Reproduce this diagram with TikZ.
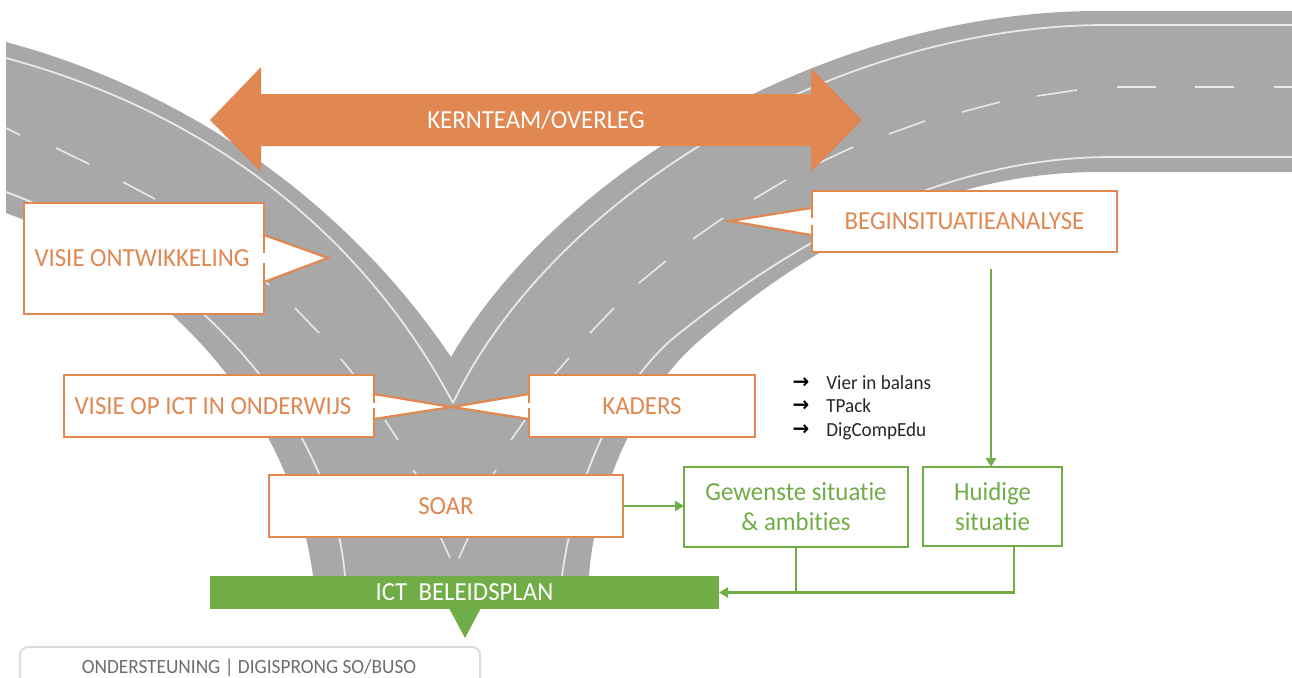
\documentclass[tikz,border=0pt]{standalone}
\usepackage{fontspec}
\setmainfont{Carlito}[FakeStretch=0.955,Ligatures=NoCommon]
\newfontfamily\symfont{DejaVu Sans}
\usetikzlibrary{arrows.meta}
\definecolor{road}{HTML}{A9A8A8}
\definecolor{oran}{HTML}{E08752}
\definecolor{gren}{HTML}{70AD47}
\definecolor{lane}{HTML}{E9E9E9}
\definecolor{frameg}{HTML}{DCDCDC}
\definecolor{txtg}{HTML}{6E6E6E}
\tikzset{
  orangebox/.style={draw=oran,fill=white,line width=1.35pt,inner sep=0pt,outer sep=0pt,text=oran,font=\fontsize{13}{15}\selectfont,align=center},
  greenbox/.style={draw=gren,fill=white,line width=1.35pt,inner sep=0pt,outer sep=0pt,text=gren,font=\fontsize{13}{15}\selectfont,align=center},
  wedgeshape/.style={draw=oran,fill=white,line width=1.1pt,line join=miter},
  lanemark/.style={draw=lane,line width=0.8pt},
  edgeline/.style={draw=lane,line width=0.9pt},
  greenline/.style={draw=gren,line width=1.2pt},
  greentip/.style={greenline,-{Triangle[length=4.5pt,width=5pt]}},
  listtext/.style={anchor=base west,inner sep=0pt,text=black!85,font=\fontsize{10}{11}\selectfont},
  listarrow/.style={inner sep=0pt,text=black,font=\symfont\bfseries\fontsize{10}{11}\selectfont}
}
\begin{document}
\begin{tikzpicture}[x=0.5pt,y=-0.5pt]
\useasboundingbox (0,0) rectangle (1292,677);
% road surface
\fill[road] (6,42) .. controls (185,90) and (345,200) .. (451,357)
  .. controls (560,170) and (830,11) .. (1099,11) -- (1292,11) -- (1292,172) -- (1099,172)
  .. controls (985,172) and (850,210) .. (700,340)
  .. controls (640,391) and (595,490) .. (589,576)
  -- (313,576) .. controls (290,400) and (150,265) .. (6,213) -- cycle;
% edge lines
\draw[edgeline] (6,58) .. controls (180,105) and (350,210) .. (453,403);
\draw[edgeline] (453,403) .. controls (550,200) and (830,25) .. (1107,25) -- (1292,25);
\draw[edgeline] (1292,157) -- (1112,157) .. controls (970,157) and (825,215) .. (671,340)
  .. controls (615,390) and (575,480) .. (562,576);
\draw[edgeline] (6,192) .. controls (165,250) and (330,400) .. (345,576);
% lane dashes
\foreach \xa/\ya/\xb/\yb in {6/128/20/135,56/148/89/164,123/182/155/199,258/275/269/285,295/308/319/333,341/359/354/375,385/420/398/440,413/470/417/475,441/538/450/558,459/558/468/538,493/475/496/470,511/440/525/420,554/375/569/358,590/333/614/308,639/283/666/261,693/239/723/218,754/199/786/180,819/163/853/147,889/134/925/121,962/112/1000/102,1037/96/1077/90,1117/87/1156/87,1195/87/1234/87,1274/87/1292/87}
  \draw[lanemark] (\xa,\ya) -- (\xb,\yb);
% big double arrow
\fill[oran] (210,120) -- (261,67) -- (261,94) -- (811,94) -- (811,68) -- (862,120) -- (811,172) -- (811,146) -- (261,146) -- (261,172) -- cycle;
\node[text=white,inner sep=0pt,font=\fontsize{13}{15}\selectfont] (kern) at (536,120) {KERNTEAM/OVERLEG};
% callout wedges
\draw[wedgeshape] (264,235) -- (328,258) -- (264,282);
\draw[wedgeshape] (811,208) -- (730,221) -- (811,235);
\draw[wedgeshape] (374,394) -- (452,407) -- (374,419);
\draw[wedgeshape] (529,394) -- (452,407) -- (529,419);
% orange boxes
\node[orangebox,minimum width=120pt,minimum height=55.5pt] (visie) at (144,258.5) {VISIE ONTWIKKELING\hspace{2pt}};
\node[orangebox,minimum width=155pt,minimum height=31pt] (ict) at (219,406) {\raisebox{-0.6pt}{VISIE OP ICT IN ONDERWIJS}\hspace{6pt}};
\node[orangebox,minimum width=113pt,minimum height=31pt] (kaders) at (642,406) {\raisebox{-0.6pt}{KADERS}};
\node[orangebox,minimum width=177pt,minimum height=31pt] (soar) at (446,506) {\raisebox{-0.4pt}{SOAR}};
\node[orangebox,minimum width=152.5pt,minimum height=30.5pt] (begin) at (964.5,221.5) {BEGINSITUATIEANALYSE};
% white openings in the box borders
\draw[white,line width=1.5pt] (264,253) -- (264,263);
\draw[white,line width=1.5pt] (811,218) -- (811,225);
\draw[white,line width=1.5pt] (374,403) -- (374,408);
\draw[white,line width=1.5pt] (529,403) -- (529,408);
% green boxes
\node[greenbox,minimum width=112pt,minimum height=40pt] (gew) at (796,507) {Gewenste situatie\\\&\ ambities};
\node[greenbox,minimum width=69.5pt,minimum height=39.5pt] (hui) at (992.5,506.5) {Huidige\\situatie};
% plan bar
\fill[gren] (465,638) -- (449,608) -- (481,608) -- cycle;
\node[fill=gren,text=white,inner sep=0pt,outer sep=0pt,minimum width=254.5pt,minimum height=16.5pt,font=\fontsize{13}{15}\selectfont] (plan) at (464.5,592.5) {ICT\ \ BELEIDSPLAN};
% connectors
\coordinate (beginfoot) at (991,269);
\draw[greentip] (soar.east) -- (soar.east -| gew.west);
\draw[greentip] (beginfoot) -- (beginfoot |- hui.north);
\coordinate (join) at (gew.south |- plan.east);
\coordinate (huifoot) at (1014,546);
\draw[greenline] (gew.south) -- (join);
\draw[greentip] (huifoot) -- (huifoot |- plan.east) -- (plan.east);
% list
\node[listarrow] (a1) at (801,383) {→};
\node[listarrow] (a2) at (801,406) {→};
\node[listarrow] (a3) at (801,430) {→};
\node[listtext] (l1) at (826,389) {Vier in balans};
\node[listtext] (l2) at (826,412) {TPack};
\node[listtext] (l3) at (826,436) {DigCompEdu};
% bottom panel
\draw[frameg,line width=1pt,fill=white,rounded corners=4pt] (20,690) -- (20,647) -- (480,647) -- (480,690);
\node[inner sep=0pt,text=txtg,font=\fontsize{10.1}{12}\selectfont] (onder) at (249,668) {ONDERSTEUNING | DIGISPRONG SO/BUSO};
\end{tikzpicture}
\end{document}
